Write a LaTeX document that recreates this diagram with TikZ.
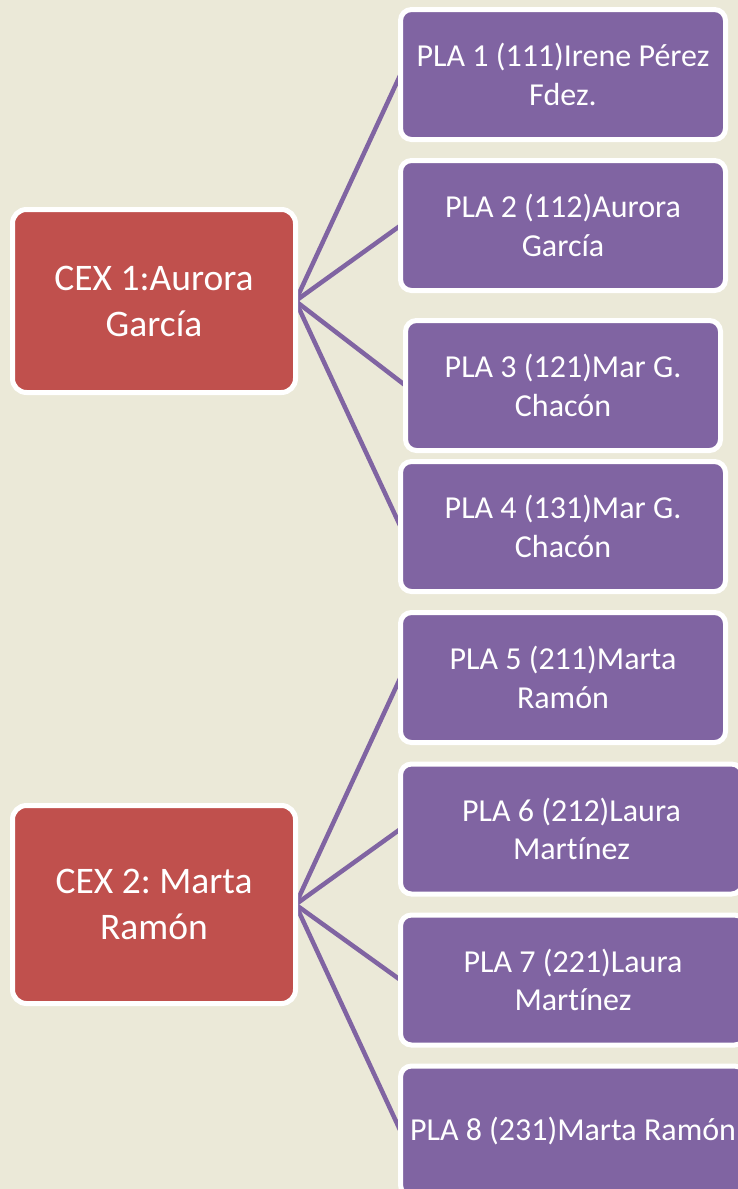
\documentclass[tikz,border=0pt]{standalone}
\usepackage{fontspec}
\setmainfont{Carlito}[Ligatures=NoCommon]
\frenchspacing
\usetikzlibrary{backgrounds}
\definecolor{fondo}{RGB}{235,233,216}
\definecolor{rojo}{RGB}{192,80,77}
\definecolor{morado}{RGB}{128,100,162}
\tikzset{
    caja/.style={rectangle, draw=white, line width=5pt, text=white, align=center,
        inner sep=0pt, outer sep=0pt},
    cex/.style={caja, fill=rojo, rounded corners=14pt, minimum width=283pt,
        font=\fontsize{37.5}{46}\selectfont},
    pla/.style={caja, fill=morado, rounded corners=11pt, minimum height=130pt,
        font=\fontsize{32}{38.5}\selectfont},
    rama/.style={draw=morado, line width=4.5pt}
}
\begin{document}
\begin{tikzpicture}[x=1pt,y=-1pt]
                  \useasboundingbox (0,0) rectangle (738,1189);

                  % CEX
                  \node[cex, minimum height=183pt] (cex1) at (154,301) {CEX 1:Aurora\\García};
                  \node[cex, minimum height=198pt] (cex2) at (154,904.5) {CEX 2: Marta\\Ramón};

                  % PLA
                  \node[pla, minimum width=325pt] (pla1) at (563,74.5) {PLA 1 (111)Irene Pérez\\Fdez.};
                  \node[pla, minimum width=325pt] (pla2) at (563,225.5) {PLA 2 (112)Aurora\\García};
                  \node[pla, minimum width=315pt] (pla3) at (563,385.5) {PLA 3 (121)Mar G.\\Chacón};
                  \node[pla, minimum width=325pt] (pla4) at (563,526.5) {PLA 4 (131)Mar G.\\Chacón};
                  \node[pla, minimum width=325pt] (pla5) at (563,677.5) {PLA 5 (211)Marta\\Ramón};
                  \node[pla, minimum width=342pt] (pla6) at (571.5,829) {PLA 6 (212)Laura\\Martínez};
                  \node[pla, minimum width=345pt] (pla7) at (573,980) {PLA 7 (221)Laura\\Martínez};
                  \node[pla, minimum width=345pt] (pla8) at (573,1131) {PLA 8 (231)Marta Ramón};

                  \begin{scope}[on background layer]
                      \fill[fondo] (0,0) rectangle (738,1189);
                      \foreach \p in {1,2,3,4} {
                              \draw[rama] (cex1.east) -- (pla\p.west);
                          }
                      \foreach \p in {5,6,7,8} {
                              \draw[rama] (cex2.east) -- (pla\p.west);
                          }
                  \end{scope}
              \end{tikzpicture}
\end{document}
